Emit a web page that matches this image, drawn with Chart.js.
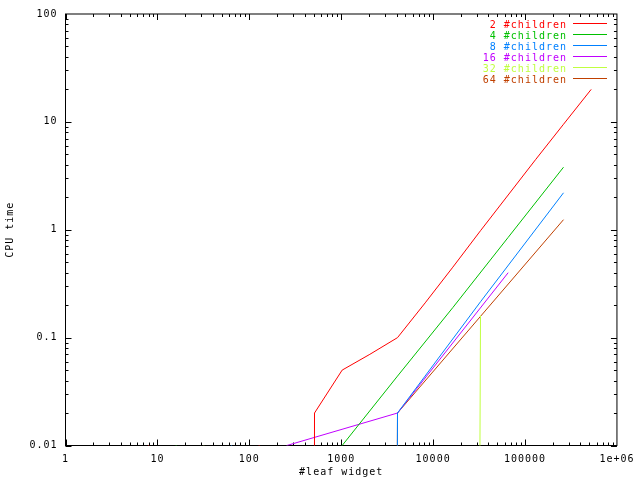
<!DOCTYPE html>
<html>
<head>
<meta charset="utf-8">
<script src="https://cdn.jsdelivr.net/npm/chart.js@4.4.1/dist/chart.umd.min.js"></script>
<style>
  html, body { margin: 0; padding: 0; background: #fff; }
  #wrap { width: 640px; height: 480px; }
</style>
</head>
<body>
<div id="wrap"><canvas id="myChart" width="640" height="480"></canvas></div>
<script>
// series names and colours
var seriesLabels = ["2 #children", "4 #children", "8 #children", "16 #children", "32 #children", "64 #children"];
var seriesColors = ["#ff0000", "#00c000", "#0080ff", "#c000ff", "#c0ff40", "#c04000"];

// #leaf widget and CPU time per branching factor (0 = below timer resolution)
var leaves2 = [2, 4, 8, 16, 32, 64, 128, 256, 512, 1024, 2048, 4096, 8192, 16384, 32768, 65536, 131072, 262144, 524288];
var time2 = [0, 0, 0.01, 0, 0, 0, 0.01, 0, 0.02, 0.05, 0.07, 0.1, 0.21, 0.45, 0.98, 2.1, 4.5, 9.5, 20];

var leaves4 = [4, 16, 64, 256, 1024, 4096, 16384, 65536, 262144];
var time4 = [0, 0.01, 0, 0, 0.01, 0.044, 0.19, 0.85, 3.8];

var leaves8 = [8, 64, 512, 4096, 32768, 262144];
var time8 = [0, 0.01, 0, 0.02, 0.215, 2.2];

var leaves16 = [16, 256, 4096, 65536];
var time16 = [0, 0.01, 0.02, 0.4];

var leaves32 = [32, 1024, 32768];
var time32 = [0.01, 0, 0.16];

var leaves64 = [64, 4096, 262144];
var time64 = [0, 0.02, 1.24];

var xTickValues = [1, 10, 100, 1000, 10000, 100000, 1000000];
var xTickLabels = ["1", "10", "100", "1000", "10000", "100000", "1e+06"];
var yTickValues = [0.01, 0.1, 1, 10, 100];
var yTickLabels = ["0.01", "0.1", "1", "10", "100"];

var allLeaves = [leaves2, leaves4, leaves8, leaves16, leaves32, leaves64];
var allTimes = [time2, time4, time8, time16, time32, time64];

var FONT = "'DejaVu Sans Mono', monospace";

// zero times drop straight off the log axis, like gnuplot does
function toPoints(xs, ys) {
  return xs.map(function (x, i) {
    return { x: x, y: ys[i] > 0 ? ys[i] : 1e-300 };
  });
}

var datasets = seriesLabels.map(function (label, i) {
  return {
    label: label,
    data: toPoints(allLeaves[i], allTimes[i]),
    borderColor: seriesColors[i],
    backgroundColor: seriesColors[i],
    borderWidth: 1,
    pointRadius: 0,
    tension: 0,
    fill: false,
  };
});

// gnuplot style: border box with inward ticks on all four sides
var frame = {
  id: "frame",
  beforeDraw: function (chart) {
    chart.ctx.letterSpacing = "1px";
  },
  beforeDatasetsDraw: function (chart) {
    var a = chart.chartArea, c = chart.ctx;
    var sx = chart.scales.x, sy = chart.scales.y;
    c.save();
    c.strokeStyle = "#000";
    c.lineWidth = 1;
    c.strokeRect(a.left, a.top, a.right - a.left, a.bottom - a.top);
    c.beginPath();
    var d, m, v, p, len;
    for (d = 0; d < 6; d++) {
      for (m = 1; m <= 9; m++) {
        v = m * Math.pow(10, d);
        p = Math.round(sx.getPixelForValue(v)) + 0.5;
        len = m === 1 ? 6 : 3;
        c.moveTo(p, a.bottom); c.lineTo(p, a.bottom - len);
        c.moveTo(p, a.top); c.lineTo(p, a.top + len);
      }
    }
    for (d = -2; d < 2; d++) {
      for (m = 1; m <= 9; m++) {
        v = m * Math.pow(10, d);
        p = Math.round(sy.getPixelForValue(v)) + 0.5;
        len = m === 1 ? 6 : 3;
        c.moveTo(a.left, p); c.lineTo(a.left + len, p);
        c.moveTo(a.right, p); c.lineTo(a.right - len, p);
      }
    }
    c.stroke();
    c.restore();
  },
  afterDraw: function (chart) {
    var c = chart.ctx;
    c.save();
    c.font = "10px " + FONT;
    c.letterSpacing = "1px";
    c.textAlign = "right";
    c.textBaseline = "alphabetic";
    c.lineWidth = 1;
    chart.data.datasets.forEach(function (ds, i) {
      var y = 23.5 + i * 11;
      c.fillStyle = ds.borderColor;
      c.fillText(ds.label, 567, y + 4);
      c.strokeStyle = ds.borderColor;
      c.beginPath();
      c.moveTo(573, y);
      c.lineTo(607, y);
      c.stroke();
    });
    c.restore();
  },
};

var ctx = document.getElementById("myChart");
var myChart = new Chart(ctx, {
  type: "line",
  data: { datasets: datasets },
  options: {
    responsive: false,
    animation: false,
    devicePixelRatio: 1,
    layout: { padding: { top: 12.5, right: 19.5, left: 0, bottom: 0 } },
    plugins: {
      legend: { display: false },
      tooltip: { enabled: false },
    },
    scales: {
      x: {
        type: "logarithmic",
        min: 1,
        max: 1000000,
        grid: { display: false, drawTicks: false },
        border: { display: false },
        afterBuildTicks: function (s) {
          s.ticks = xTickValues.map(function (v) { return { value: v }; });
        },
        afterFit: function (s) { s.height = 34.5; },
        ticks: {
          autoSkip: false,
          maxRotation: 0,
          padding: 8,
          color: "#000",
          font: { family: FONT, size: 10 },
          callback: function (v, i) { return xTickLabels[i]; },
        },
        title: {
          display: true,
          text: "#leaf widget",
          color: "#000",
          font: { family: FONT, size: 10 },
          padding: { top: 0, bottom: 2 },
        },
      },
      y: {
        type: "logarithmic",
        min: 0.01,
        max: 100,
        grid: { display: false, drawTicks: false },
        border: { display: false },
        afterBuildTicks: function (s) {
          s.ticks = yTickValues.map(function (v) { return { value: v }; });
        },
        afterFit: function (s) { s.width = 65.5; },
        ticks: {
          autoSkip: false,
          padding: 8,
          color: "#000",
          font: { family: FONT, size: 10 },
          callback: function (v, i) { return yTickLabels[i]; },
        },
        title: {
          display: true,
          text: "CPU time",
          color: "#000",
          font: { family: FONT, size: 10 },
          padding: { top: 4, bottom: 0 },
        },
      },
    },
  },
  plugins: [frame],
});
</script>
</body>
</html>
